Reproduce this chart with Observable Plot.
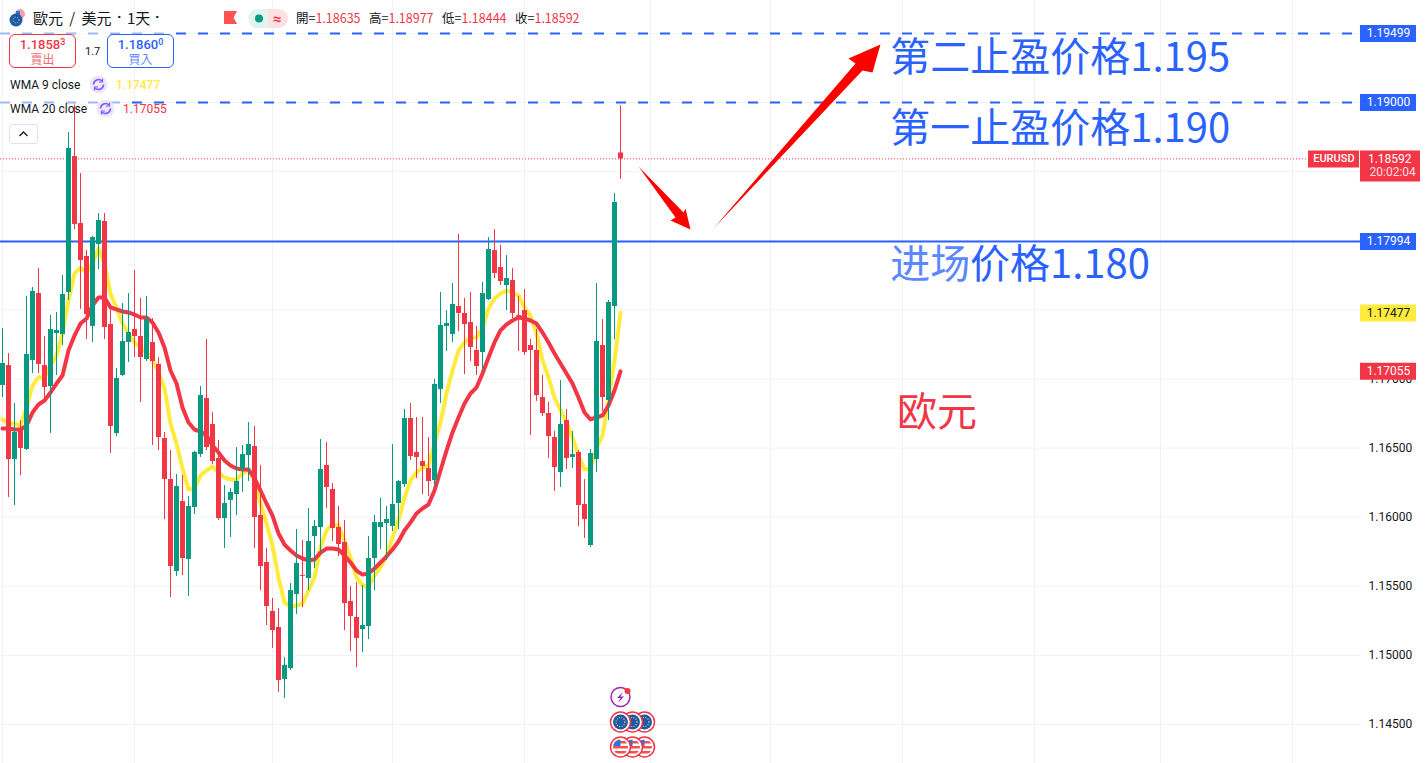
<!DOCTYPE html>
<html><head><meta charset="utf-8">
<script src="https://cdn.jsdelivr.net/npm/d3@7"></script>
<script src="https://cdn.jsdelivr.net/npm/@observablehq/plot@0.6"></script>
<style>
html,body{margin:0;padding:0;background:#fff;overflow:hidden;width:1426px;height:763px}
#wrap{position:relative;width:1426px;height:763px;font-family:Roboto,"Noto Sans CJK TC",sans-serif;color:#131722}
#wrap svg{display:block}
.o{position:absolute;white-space:nowrap;line-height:1}
.box{position:absolute;box-sizing:border-box;border:1px solid;border-radius:6px;width:67px;height:34px;top:34px;background:#fff;text-align:center}
.box b{display:block;font-weight:500;font-size:13px;line-height:14px;margin-top:3px}
.box b sup{font-size:9px;line-height:0;vertical-align:4px}
.box i{display:block;font-style:normal;font-size:12px;line-height:14px;opacity:.75;font-family:"Noto Sans CJK TC"}
.r{color:#f23645}
.strip{position:absolute;background:rgba(255,255,255,.55)}
.ohlc{top:12px;font-size:12.500px;font-family:'Noto Sans CJK TC',Roboto}
.ttl{top:10px;font-size:15px;font-family:'Noto Sans CJK TC'}
.dot{top:10px;font-size:15px;font-family:Roboto;font-weight:700}
</style></head><body><div id="wrap">
<div id="chart"></div>
<div class="strip" style="left:0;top:30px;width:176px;height:6px"></div>
<div class="strip" style="left:0;top:99px;width:120px;height:6px"></div>

<svg class="o" style="left:9px;top:8px" width="17" height="20" viewBox="0 0 17 20"><circle cx="11" cy="6" r="5" fill="#f4a0a8"/><path d="M7 3h4v4H7z" fill="#3b6fd4"/><circle cx="7" cy="12" r="6.5" fill="#1a5aa8"/><circle cx="7" cy="12" r="3" fill="none" stroke="#f7c948" stroke-dasharray="1 1.5"/></svg>
<div class="o ttl" style="left:33px;word-spacing:3px">歐元 / 美元</div>
<div class="o dot" style="left:117px">·</div>
<div class="o ttl" style="left:127px">1天</div>
<div class="o dot" style="left:155px">·</div>
<svg class="o" style="left:224px;top:11px" width="13" height="13"><path d="M0 0H13L9.5 6.5L13 13H0Z" fill="#ff5252"/></svg>
<svg class="o" style="left:248px;top:9px" width="40" height="19"><path d="M9.500 0H20V19H9.500A9.500 9.500 0 0 1 9.500 0Z" fill="#e3f3f0"/><path d="M20 0H30.500A9.500 9.500 0 0 1 30.500 19H20Z" fill="#fbe0e4"/><circle cx="11" cy="9.500" r="4" fill="#089981"/><text x="29" y="14.500" font-size="15" font-weight="700" text-anchor="middle" fill="#f23645">≈</text></svg>
<div class="o ohlc" style="left:296px">開=<span class="r">1.18635</span></div>
<div class="o ohlc" style="left:369px">高=<span class="r">1.18977</span></div>
<div class="o ohlc" style="left:442px">低=<span class="r">1.18444</span></div>
<div class="o ohlc" style="left:515px">收=<span class="r">1.18592</span></div>

<div class="box" style="left:9px;border-color:#f23645;color:#f23645"><b>1.1858<sup>3</sup></b><i>賣出</i></div>
<div class="o" style="left:85px;top:46px;font-size:11px">1.7</div>
<div class="box" style="left:107px;border-color:#2962ff;color:#2962ff"><b>1.1860<sup>0</sup></b><i>買入</i></div>

<div class="o" style="left:10px;top:79px;font-size:12px">WMA 9 close</div>
<svg class="o" style="left:89px;top:75px" width="19" height="19"><circle cx="9.500" cy="9.500" r="9" fill="#ede7fb"/><path d="M4.500 9.500A5 5 0 0 1 13 6M14.500 9.500A5 5 0 0 1 6 13" fill="none" stroke="#7e57ff" stroke-width="1.600"/><path d="M13.500 3.500V7H10M5.500 15.500V12H9" fill="none" stroke="#7e57ff" stroke-width="1.200"/></svg>
<div class="o" style="left:116px;top:79px;font-size:12px;color:#ffeb3b;font-weight:500">1.17477</div>
<div class="o" style="left:10px;top:103px;font-size:12px">WMA 20 close</div>
<svg class="o" style="left:96px;top:99px" width="19" height="19"><circle cx="9.500" cy="9.500" r="9" fill="#ede7fb"/><path d="M4.500 9.500A5 5 0 0 1 13 6M14.500 9.500A5 5 0 0 1 6 13" fill="none" stroke="#7e57ff" stroke-width="1.600"/><path d="M13.500 3.500V7H10M5.500 15.500V12H9" fill="none" stroke="#7e57ff" stroke-width="1.200"/></svg>
<div class="o" style="left:123px;top:103px;font-size:12px;color:#f23645">1.17055</div>
<div class="o" style="left:9px;top:124px;width:29px;height:20px;box-sizing:border-box;border:1px solid #e0e3eb;border-radius:3px;background:#fff"><svg width="27" height="18"><path d="M9.500 11L13.500 7L17.500 11" fill="none" stroke="#131722" stroke-width="1.300"/></svg></div>

<svg class="o" style="left:605px;top:685px" width="55" height="75" viewBox="0 0 55 75">
<defs>
<g id="eu"><circle r="10" fill="#fff" stroke="#f23645" stroke-width="1.500"/><circle r="7.500" fill="#1a5aa8"/><circle r="4.500" fill="none" stroke="#f7c948" stroke-width="1.200" stroke-dasharray="1 1.400"/></g>
<g id="us"><clipPath id="c"><circle r="7.500"/></clipPath><circle r="10" fill="#fff" stroke="#f23645" stroke-width="1.500"/><g clip-path="url(#c)"><rect x="-8" y="-8" width="16" height="16" fill="#fff"/><rect x="-8" y="-1" width="16" height="2.500" fill="#ef5350"/><rect x="-8" y="4" width="16" height="2.500" fill="#ef5350"/><rect x="-8" y="-6" width="16" height="2.500" fill="#ef5350"/><rect x="-8" y="-8" width="8" height="7" fill="#3b6fd4"/></g></g>
</defs>
<circle cx="15.500" cy="12" r="9.500" fill="#fff" stroke="#9c27b0" stroke-width="1.500"/><path d="M18 7L12 13H15.500L13 18L19 11.500H15.500Z" fill="#9c27b0"/><circle cx="22.500" cy="6" r="3" fill="#f23645"/>
<use href="#eu" x="39.500" y="37"/><use href="#eu" x="27.500" y="37"/><use href="#eu" x="15.500" y="37"/>
<use href="#us" x="39.500" y="62"/><use href="#us" x="27.500" y="62"/><use href="#us" x="15.500" y="62"/>
</svg>
</div>
<script>
// Daily candles, EUR/USD
const open = [
1.16953,1.17097,1.16417,1.16627,1.16490,1.17134,1.17618,1.17097,1.16945,1.17329,
1.17322,1.17626,1.18609,1.18125,1.17886,1.17380,1.17973,1.18139,1.17394,1.16605,
1.17025,1.17264,1.17358,1.17307,1.17141,1.17264,1.17105,1.16569,1.16273,1.15607,
1.16113,1.15694,1.16070,1.16453,1.16859,1.16671,1.16425,1.15990,1.16121,1.16164,
1.16345,1.16446,1.16511,1.16012,1.15672,1.15318,1.15202,1.14826,1.14905,1.15441,
1.15578,1.15556,1.15860,1.15925,1.16374,1.16200,1.15925,1.15817,1.15390,1.15274,
1.15187,1.15209,1.15701,1.15925,1.15954,1.15933,1.16099,1.16236,1.16714,1.16468,
1.16403,1.16352,1.16265,1.16924,1.17380,1.17322,1.17524,1.17474,1.17408,1.17206,
1.17191,1.17575,1.17929,1.17806,1.17676,1.17712,1.17459,1.17495,1.17242,1.17206,
1.16866,1.16750,1.16576,1.16323,1.16699,1.16432,1.16468,1.16092,1.15795,1.16417,
1.17242,1.16844,1.17524,1.18635];
const close = [
1.17112,1.16417,1.16613,1.16497,1.17177,1.17633,1.17105,1.16938,1.17358,1.17351,
1.17611,1.18667,1.18118,1.17857,1.17466,1.18023,1.18146,1.17372,1.16656,1.17003,
1.17271,1.17336,1.17307,1.17155,1.17430,1.17126,1.16576,1.16273,1.15643,1.16222,
1.15701,1.16077,1.16468,1.16880,1.16504,1.16403,1.15990,1.16099,1.16179,1.16258,
1.16453,1.16526,1.15998,1.15643,1.15354,1.15180,1.14818,1.14927,1.15469,1.15665,
1.15571,1.15824,1.15933,1.16345,1.16215,1.15918,1.15802,1.15375,1.15281,1.15122,
1.15216,1.15701,1.15961,1.15961,1.15983,1.16092,1.16258,1.16714,1.16439,1.16432,
1.16367,1.16258,1.16960,1.17387,1.17401,1.17539,1.17474,1.17394,1.17228,1.17090,
1.17618,1.17937,1.17763,1.17705,1.17727,1.17474,1.17452,1.17191,1.17206,1.16880,
1.16750,1.16584,1.16359,1.16671,1.16425,1.16453,1.16084,1.15983,1.16461,1.17271,
1.16866,1.17553,1.18277,1.18592];
const high = [
1.17365,1.17184,1.16822,1.16699,1.17597,1.17662,1.17799,1.17307,1.17459,1.17481,
1.17749,1.18783,1.18993,1.18486,1.17929,1.18031,1.18197,1.18197,1.17495,1.17076,
1.17546,1.17618,1.17785,1.17582,1.17597,1.17437,1.17155,1.16613,1.16482,1.16309,
1.16301,1.16150,1.16475,1.16945,1.17285,1.16757,1.16555,1.16229,1.16207,1.16504,
1.16519,1.16685,1.16656,1.16374,1.15773,1.15412,1.15339,1.14985,1.15520,1.15911,
1.15831,1.16063,1.15976,1.16562,1.16540,1.16244,1.16077,1.15976,1.15498,1.15527,
1.15506,1.15860,1.16012,1.16135,1.16077,1.16526,1.16265,1.16779,1.16822,1.16721,
1.16721,1.16576,1.16996,1.17626,1.17495,1.17691,1.18045,1.17582,1.17626,1.17380,
1.17698,1.18023,1.18081,1.17966,1.17893,1.17799,1.17597,1.17647,1.17285,1.17358,
1.17025,1.16830,1.16620,1.16989,1.16779,1.16620,1.16482,1.16273,1.16490,1.17691,
1.17430,1.17568,1.18342,1.18977];
const low = [
1.16866,1.16142,1.16084,1.16301,1.16482,1.17039,1.17039,1.16844,1.16605,1.17025,
1.17242,1.17568,1.18081,1.17503,1.17285,1.17264,1.17792,1.17285,1.16461,1.16584,
1.17018,1.17119,1.17155,1.16830,1.17126,1.16519,1.16482,1.15983,1.15419,1.15571,
1.15578,1.15426,1.16019,1.16432,1.16482,1.16381,1.15976,1.15773,1.15853,1.16012,
1.16179,1.16258,1.15773,1.15469,1.15216,1.15050,1.14732,1.14688,1.14891,1.15296,
1.15346,1.15469,1.15629,1.15737,1.16063,1.15824,1.15715,1.15180,1.15028,1.14912,
1.15021,1.15115,1.15469,1.15766,1.15687,1.15896,1.15911,1.16215,1.16410,1.16280,
1.16164,1.16150,1.16215,1.16822,1.17199,1.17264,1.17343,1.17032,1.17126,1.17025,
1.17061,1.17568,1.17727,1.17676,1.17495,1.17437,1.17199,1.17170,1.16591,1.16837,
1.16728,1.16425,1.16186,1.16215,1.16345,1.16352,1.15933,1.15846,1.15781,1.16323,
1.16765,1.16699,1.17285,1.18444];
const wma9 = [
1.16707,1.16678,1.16678,1.16663,1.16793,1.16953,1.17011,1.17011,1.17097,1.17170,
1.17329,1.17568,1.17763,1.17806,1.17770,1.17835,1.17944,1.17835,1.17618,1.17510,
1.17401,1.17329,1.17264,1.17228,1.17191,1.17148,1.17047,1.16931,1.16678,1.16533,
1.16352,1.16200,1.16207,1.16301,1.16338,1.16367,1.16323,1.16287,1.16273,1.16273,
1.16316,1.16345,1.16265,1.16099,1.15954,1.15795,1.15564,1.15383,1.15354,1.15361,
1.15375,1.15469,1.15564,1.15781,1.15904,1.15947,1.15940,1.15831,1.15708,1.15564,
1.15506,1.15498,1.15578,1.15636,1.15723,1.15853,1.15976,1.16142,1.16265,1.16323,
1.16359,1.16374,1.16533,1.16685,1.16895,1.17061,1.17206,1.17264,1.17300,1.17300,
1.17372,1.17510,1.17582,1.17618,1.17640,1.17626,1.17604,1.17517,1.17459,1.17329,
1.17134,1.17011,1.16866,1.16772,1.16685,1.16576,1.16446,1.16345,1.16352,1.16497,
1.16591,1.16844,1.17134,1.17477];
const wma20 = [
1.16642,1.16642,1.16634,1.16634,1.16663,1.16757,1.16815,1.16844,1.16902,1.16967,
1.17025,1.17206,1.17314,1.17401,1.17437,1.17531,1.17589,1.17589,1.17517,1.17503,
1.17488,1.17481,1.17466,1.17445,1.17445,1.17408,1.17336,1.17228,1.17061,1.16967,
1.16793,1.16685,1.16634,1.16620,1.16591,1.16519,1.16468,1.16410,1.16374,1.16352,
1.16345,1.16345,1.16280,1.16193,1.16099,1.16012,1.15882,1.15802,1.15759,1.15723,
1.15701,1.15687,1.15694,1.15744,1.15773,1.15773,1.15766,1.15723,1.15672,1.15614,
1.15585,1.15592,1.15629,1.15672,1.15715,1.15766,1.15824,1.15904,1.15961,1.16027,
1.16063,1.16092,1.16193,1.16338,1.16482,1.16613,1.16721,1.16822,1.16895,1.16938,
1.17039,1.17155,1.17264,1.17351,1.17394,1.17423,1.17445,1.17437,1.17423,1.17401,
1.17336,1.17264,1.17184,1.17112,1.17039,1.16967,1.16866,1.16757,1.16707,1.16721,
1.16736,1.16808,1.16917,1.17055];

const yTicks = [1.145,1.15,1.155,1.16,1.165,1.17,1.175,1.18,1.185,1.19,1.195];
const yTickLabels = [1.145,1.15,1.155,1.16,1.165,1.17];
const monthStarts = [0,22,45,65,87,108,128,150,172,193,215];
const targets = [1.19499,1.19];
const entry = 1.17994;
const lastPrice = 1.18592;

const notes = [
  {t:"第二止盈价格1.195", i:147.95, p:1.19318, c:"#2962ff"},
  {t:"第一止盈价格1.190", i:147.95, p:1.18804, c:"#2962ff"},
  {t:"进场",             i:147.95, p:1.17820, c:"#5c88ff"},
  {t:"价格1.180",        i:161.25, p:1.17820, c:"#2962ff"},
  {t:"欧元",             i:149.1, p:1.16750, c:"#f23645"}
];
const arrowDown = [[106,1.18537],[113.5,1.18204],[113.83,1.18233],[114.67,1.18081],[111.33,1.18146],[112.17,1.18168]];
const arrowUp = [[118.5,1.18089],[142.17,1.19282],[141,1.19319],[146.33,1.1942],[145,1.19217],[143.33,1.19232]];

const badges = [
  {t:"1.19499", p:1.19499, bg:"#2962ff", fg:"#fff"},
  {t:"1.19000", p:1.19,    bg:"#2962ff", fg:"#fff"},
  {t:"1.17994", p:1.17994, bg:"#2962ff", fg:"#fff"},
  {t:"1.17477", p:1.17477, bg:"#ffeb3b", fg:"#131722"},
  {t:"1.17055", p:1.17055, bg:"#f23645", fg:"#fff"}
];

const candles = open.map((o,i)=>({i,o,c:close[i],h:high[i],l:low[i],a:wma9[i],b:wma20[i]}));
if (candles.length!==104||[close,high,low,wma9,wma20].some(a=>a.length!==104)) throw new Error("length mismatch");
const up = d=>d.c>=d.o, dn = d=>d.c<d.o;
const UP="#089981", DOWN="#f23645", BLUE="#2962ff", GRID="#f1f2f5";
const edge=226.33, edgeR=235.67, mid=231;

const chart = Plot.plot({
  width:1426, height:763, marginTop:0, marginBottom:0, marginLeft:0, marginRight:65,
  style:{fontFamily:"Roboto", fontSize:"12px", background:"#fff", color:"#131722", overflow:"visible"},
  x:{type:"linear", domain:[-1/3,226.5], range:[0,1361], axis:null},
  y:{type:"linear", domain:[1.14218,1.19738], range:[763,0]},
  marks:[
    Plot.gridX(monthStarts,{stroke:GRID,strokeOpacity:1}),
    Plot.gridY(yTicks,{stroke:GRID,strokeOpacity:1}),
    Plot.axisY({anchor:"right",ticks:yTickLabels,tickSize:0,tickPadding:7,tickFormat:".5f",label:null,fill:"#131722",fontSize:12}),
    Plot.ruleY(targets,{x1:()=>-1/3,x2:()=>225.17,stroke:BLUE,strokeWidth:2,strokeDasharray:"10 12"}),
    Plot.ruleY([lastPrice],{x1:()=>-1/3,x2:()=>217.5,stroke:DOWN,strokeWidth:1,strokeDasharray:"1 2"}),
    Plot.ruleY([entry],{x1:()=>-1/3,x2:()=>edge,stroke:BLUE,strokeWidth:2}),
    Plot.line(candles,{x:"i",y:"a",stroke:"#ffeb3b",strokeWidth:4}),
    Plot.line(candles,{x:"i",y:"b",stroke:DOWN,strokeWidth:4}),
    Plot.ruleX(candles,{filter:up,x:"i",y1:"l",y2:"h",stroke:UP,strokeWidth:1}),
    Plot.ruleX(candles,{filter:dn,x:"i",y1:"l",y2:"h",stroke:DOWN,strokeWidth:1}),
    Plot.ruleX(candles,{filter:up,x:"i",y1:"o",y2:"c",stroke:UP,strokeWidth:5,strokeLinecap:"butt"}),
    Plot.ruleX(candles,{filter:dn,x:"i",y1:"o",y2:"c",stroke:DOWN,strokeWidth:5,strokeLinecap:"butt"}),
    Plot.line(arrowDown,{x:"0",y:"1",fill:"#ff0000",stroke:"none",curve:"linear-closed"}),
    Plot.line(arrowUp,{x:"0",y:"1",fill:"#ff0000",stroke:"none",curve:"linear-closed"}),
    Plot.text(notes,{x:"i",y:"p",text:"t",fill:"c",fontSize:40,textAnchor:"start",fontFamily:"'Noto Sans CJK SC'"}),
    // price tags on the scale
    Plot.ruleY(badges,{y:"p",x1:()=>edge,x2:()=>edgeR,stroke:"bg",strokeWidth:17}),
    Plot.text(badges,{x:()=>mid,y:"p",text:"t",fill:"fg",fontSize:12}),
    Plot.ruleY([1.18541],{x1:()=>edge,x2:()=>236.33,stroke:DOWN,strokeWidth:31}),
    Plot.ruleY([lastPrice],{x1:()=>217.67,x2:()=>226.17,stroke:DOWN,strokeWidth:17}),
    Plot.text([lastPrice],{x:()=>221.9,y:d=>d,text:()=>"EURUSD",fill:"#fff",fontSize:11,fontWeight:500}),
    Plot.text([lastPrice],{x:()=>231.2,y:d=>d,text:()=>"1.18592",fill:"#fff",fontSize:12}),
    Plot.text([1.18497],{x:()=>231.7,y:d=>d,text:()=>"20:02:04",fill:"#ffdfe3",fontSize:12})
  ]
});
document.getElementById("chart").appendChild(chart);
</script>
</body></html>
